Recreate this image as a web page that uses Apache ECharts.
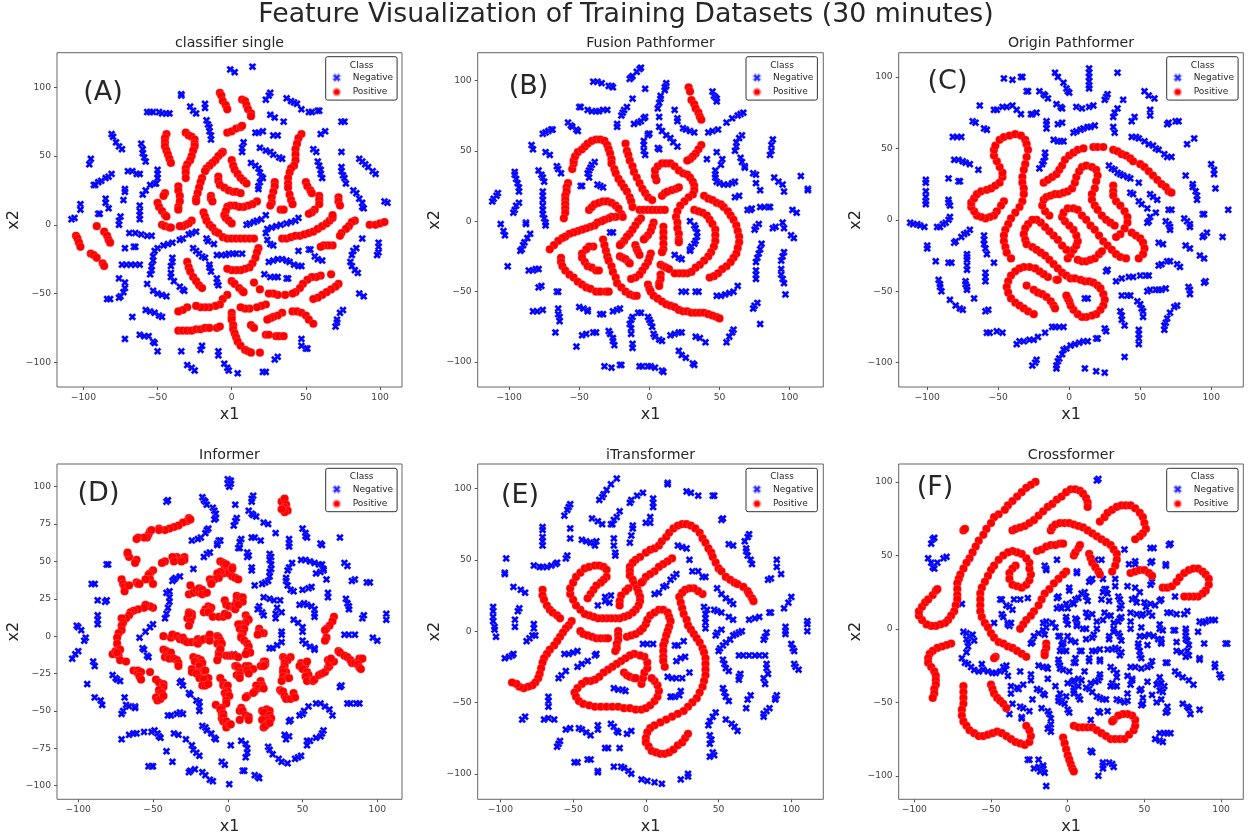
<!DOCTYPE html>
<html><head><meta charset="utf-8"><style>html,body{margin:0;padding:0;background:#fff}#c{width:1248px;height:834px}</style>
<script src="https://cdn.jsdelivr.net/npm/echarts@6/dist/echarts.min.js"></script></head><body><div id="c"></div><script>
const mainTitle="Feature Visualization of Training Datasets (30 minutes)";
const panelNames=["classifier single","Fusion Pathformer","Origin Pathformer","Informer","iTransformer","Crossformer"];
const panelTags=["(A)","(B)","(C)","(D)","(E)","(F)"];
const classNames=["Negative","Positive"];
const ticksA=[-100,-50,0,50,100], ticksAy=[-100,-50,0,50,100], ticksDy=[-100,-75,-50,-25,0,25,50,75,100];
const negA=[-1,113,2,111,14,115,-34,94,-34,95,26,96,25,94,23,91,37,92,40,90,42,89,44,88,47,84,52,82,54,82,58,83,59,83,-28,86,-26,83,-24,81,-18,88,-18,85,-57,82,-55,82,-53,82,-49,82,-47,81,-44,81,-42,81,-17,76,-16,73,-15,71,-15,68,-14,65,-14,62,26,80,29,78,35,75,74,75,76,75,16,67,18,67,21,68,60,66,63,68,28,65,31,65,-81,66,-80,64,-78,60,-76,57,-74,55,-61,59,-60,55,-60,52,-59,49,-58,46,8,60,7,56,7,53,19,56,23,54,26,53,28,51,32,49,34,48,55,55,57,53,74,53,-95,48,-96,44,58,46,59,43,60,40,60,37,61,34,86,48,88,46,90,44,92,42,95,39,97,37,13,45,16,43,18,41,19,38,20,35,21,34,-70,39,-67,39,-64,37,-62,37,-50,40,-50,37,-50,34,-52,30,-51,30,-55,29,-58,25,-60,22,-81,37,-83,35,-85,34,-88,32,-90,31,-93,29,-92,29,74,42,74,39,75,36,76,34,77,30,19,31,18,28,18,26,-72,26,-72,24,-73,18,82,25,84,23,86,19,88,16,88,13,89,12,-85,19,-85,16,-83,12,-102,15,-102,11,-108,4,-106,5,-62,14,-62,10,-62,7,-62,4,-90,8,-89,8,-75,6,-76,3,-76,0,103,17,105,16,10,0,12,1,15,2,17,3,20,4,23,7,23,-6,24,-3,27,-2,30,-1,33,0,37,1,40,2,43,3,45,5,24,-11,26,-14,28,-15,-69,-6,-65,-6,-61,-7,-57,-8,-54,-8,-24,-5,-27,-6,-29,-7,-33,-10,-35,-11,-40,-13,-43,-14,-46,-15,-50,-17,-52,-19,-53,-23,-53,-26,-54,-30,-54,-33,-55,-36,-17,-10,-16,-12,-12,-14,-72,-17,-66,-16,-65,-16,45,-19,52,-18,53,-18,56,-23,58,-25,61,-26,-10,-22,-7,-22,-4,-22,-2,-21,1,-21,3,-21,7,-21,-26,-17,-24,-19,-22,-21,-20,-23,-18,-24,-40,-24,-40,-27,-41,-30,25,-27,28,-26,31,-25,34,-25,37,-26,39,-27,42,-29,45,-30,47,-30,-74,-29,-71,-29,-68,-29,-65,-29,-62,-29,-15,-29,-15,-31,-14,-34,-41,-35,-41,-38,-39,-41,-10,-39,-10,-42,-9,-44,22,-36,26,-38,29,-38,31,-38,37,-39,38,-39,-76,-39,-72,-42,-72,-46,-73,-49,-75,-52,-76,-53,-57,-43,-53,-48,-50,-50,-47,-51,-44,-52,-35,-45,-33,-47,-32,-48,-84,-54,-82,-54,86,-50,89,-52,85,-35,83,-33,81,-30,80,-27,81,-22,82,-19,84,-17,88,-10,99,-13,99,-16,99,-20,98,-22,-58,-62,-55,-63,-52,-64,-49,-66,-47,-67,75,-62,73,-64,71,-69,71,-71,70,-74,-67,-67,-62,-80,-59,-81,-56,-81,-53,-85,-52,-86,-50,-92,47,-83,47,-88,50,-90,51,-90,-72,-83,-34,-92,-21,-91,-20,-88,-9,-92,-9,-95,31,-96,29,-98,-5,-101,-3,-104,-2,-106,4,-108,-30,-102,-27,-104,-25,-106,21,-107,23,-107];
const posA=[-8,96,-7,94,-6,90,-4,87,-3,84,7,91,9,90,10,87,11,84,13,81,13,79,-3,67,0,68,3,70,6,71,7,72,-44,66,-45,63,-45,60,-45,57,-44,54,-43,51,-42,48,-41,45,-31,67,-29,65,-27,64,-25,62,-25,59,-25,57,-26,54,-27,50,-28,47,-30,44,-31,41,-31,38,-31,34,-6,53,-7,52,-9,50,-11,47,-13,45,-15,43,-17,41,-18,39,47,66,45,63,44,59,43,55,43,51,43,47,42,43,40,41,39,38,38,34,38,30,38,27,39,22,40,18,41,15,0,47,1,43,2,40,4,37,6,34,8,32,10,30,-9,35,-9,32,-8,29,-5,27,-2,25,1,24,3,24,6,23,-20,34,-21,31,-22,27,-23,23,-24,19,-24,17,29,31,29,28,28,24,27,20,27,16,26,14,50,31,51,28,53,25,54,23,-36,28,-36,25,-35,21,-35,17,-36,13,-36,11,-45,23,-46,21,-14,21,-14,19,-13,17,59,21,59,18,59,15,72,20,72,17,73,14,-50,16,-49,13,-47,10,-45,7,-44,6,33,11,35,11,17,17,14,15,11,14,8,13,5,13,2,14,-1,14,-3,13,-4,10,-5,7,-4,5,-2,3,0,1,56,11,54,9,52,8,-27,3,-29,1,-31,0,-33,-1,-35,-1,-47,0,-45,-1,-42,-2,-41,-2,-19,9,-18,6,-17,3,-15,0,-13,-2,-11,-5,-9,-6,-6,-9,-3,-10,0,-10,3,-10,6,-10,9,-10,12,-10,15,-10,34,-10,37,-10,40,-9,43,-8,46,-8,49,-7,52,-6,55,-5,58,-3,61,-1,64,1,66,3,68,5,68,7,83,3,81,2,79,-1,77,-3,74,-6,73,-8,93,0,97,0,100,1,103,2,-91,-1,-105,-8,-104,-10,-103,-13,-102,-16,-86,-5,-84,-8,-83,-11,-82,-13,68,-15,65,-15,62,-15,60,-16,-95,-21,-93,-22,-91,-24,-87,-28,-86,-30,-30,-27,-29,-31,-28,-34,-26,-38,-24,-41,-22,-44,-20,-46,18,-17,17,-20,16,-24,14,-28,12,-31,9,-32,6,-33,3,-33,0,-33,-3,-32,0,-41,2,-43,5,-46,7,-48,8,-49,15,-42,19,-47,67,-36,60,-37,57,-38,54,-38,51,-40,48,-43,46,-46,43,-49,41,-50,36,-51,31,-51,28,-50,25,-50,72,-43,70,-45,67,-47,64,-49,61,-51,58,-53,55,-54,-3,-51,-6,-54,-8,-58,-11,-59,-15,-60,-18,-60,-21,-60,-24,-59,-30,-60,-33,-62,-36,-63,-36,-77,-33,-77,-30,-77,-27,-77,-24,-76,-21,-76,-18,-75,-15,-75,-10,-75,-8,-74,23,-58,20,-59,17,-60,12,-61,9,-61,6,-60,0,-64,0,-67,0,-69,1,-73,1,-76,2,-79,3,-82,4,-85,6,-88,9,-91,11,-92,13,-93,19,-93,13,-73,15,-75,34,-64,31,-66,28,-67,26,-68,24,-69,41,-63,44,-63,47,-64,50,-66,52,-69,55,-72,23,-80,25,-80,30,-81,32,-81,35,-81];
const negB=[-14,101,-13,102,-12,103,-9,106,-7,108,-6,109,-40,99,-37,99,-34,98,-29,96,-27,96,-26,95,-3,94,12,98,12,96,11,95,11,93,45,92,46,89,47,88,48,87,48,85,-50,81,-49,81,-44,79,-41,78,-38,78,-36,78,-33,79,-30,79,6,80,7,84,8,87,8,89,-12,87,-20,75,-19,77,-18,79,-16,81,18,79,20,73,20,71,7,74,-3,74,-4,73,-6,71,-8,70,-11,69,-23,69,-23,67,55,70,59,73,63,75,65,76,67,77,-58,70,-56,68,-55,67,-52,65,-51,64,-76,62,-74,63,-72,64,-70,65,-69,65,7,67,9,64,12,61,15,59,17,56,20,53,24,66,26,65,29,64,32,63,42,63,45,64,49,65,-1,62,-1,61,-4,57,-4,54,-4,50,-3,47,0,62,6,52,7,51,-84,54,-83,51,-74,49,-71,47,66,61,64,59,62,56,62,53,61,50,88,58,87,54,87,50,86,47,48,49,41,44,52,44,51,40,65,45,66,42,68,39,68,38,-39,42,-41,40,-42,38,-43,36,-44,34,-43,31,47,36,47,33,47,31,48,28,50,27,53,26,56,26,59,27,61,28,-66,39,-65,37,-63,34,-79,36,-77,33,-76,31,-75,28,-96,35,-96,33,-95,30,-94,27,-93,24,-93,21,-49,25,-48,25,-37,26,-35,25,-33,24,74,34,76,33,76,27,79,22,89,31,92,28,95,26,96,21,-76,21,-76,18,-76,15,-76,11,-76,8,-76,5,-75,2,-74,-1,-74,-3,-108,20,-109,18,-111,16,-112,14,-93,13,-95,11,-96,8,-97,6,61,17,64,18,108,32,113,23,113,22,70,8,72,8,73,9,79,10,82,10,85,10,86,10,102,8,105,6,-88,-1,-88,-2,-106,-2,-104,-7,-103,-10,29,0,32,-3,33,-5,34,-8,34,-11,33,-14,32,-16,30,-18,29,-20,29,-21,-28,-8,-26,-8,78,-2,76,-4,75,-6,88,-5,90,-4,95,-1,96,-5,101,-10,103,-12,-85,-9,-87,-12,-89,-15,-90,-17,-91,-20,-92,-21,80,-16,79,-20,78,-23,77,-26,76,-29,18,-24,21,-26,23,-27,96,-22,95,-25,94,-28,94,-34,94,-38,95,-41,96,-44,-101,-32,-86,-35,-83,-35,-81,-34,-79,-34,76,-35,76,-38,76,-41,-79,-47,-77,-46,-66,-50,-65,-50,23,-50,26,-50,33,-50,35,-50,48,-53,51,-53,54,-52,57,-51,60,-50,63,-46,97,-52,77,-58,75,-60,74,-62,-83,-64,-80,-64,-76,-63,-65,-62,-65,-66,-64,-68,-64,-71,-50,-61,-47,-62,-44,-63,-44,-64,-35,-66,-33,-66,-26,-64,-23,-63,-21,-62,-14,-73,-13,-70,-12,-68,-8,-65,-6,-65,-1,-68,0,-70,1,-72,2,-75,79,-73,-13,-76,-13,-80,-67,-79,-48,-81,-45,-80,-40,-79,-38,-79,-29,-78,-28,-80,-26,-83,-26,-85,-25,-88,3,-80,4,-82,7,-84,9,-85,15,-81,18,-80,21,-79,23,-79,33,-82,36,-83,40,-86,60,-77,59,-79,57,-82,55,-86,-12,-87,-12,-90,-52,-89,21,-92,23,-95,26,-97,31,-101,32,-102,-32,-103,-27,-104,-21,-102,-20,-102,-7,-103,-5,-103,-1,-103,1,-103,4,-104,9,-106,10,-107];
const posB=[28,95,29,92,30,86,32,83,33,80,35,77,36,74,37,72,37,54,35,51,33,48,31,46,29,44,27,43,-55,37,-54,41,-54,43,-53,46,-51,49,-48,51,-46,53,-44,55,-41,57,-38,58,-35,58,-32,57,-30,54,-29,51,-28,48,-27,44,-27,41,-25,37,-24,34,-22,30,-20,27,-18,24,-16,21,-14,17,-13,14,-12,10,-17,55,-16,50,-15,47,-14,43,-12,39,-11,35,-9,31,-7,27,-5,23,-3,20,-1,17,2,15,5,29,4,32,4,36,6,39,9,41,12,41,15,41,18,39,21,36,24,34,27,33,29,31,31,28,32,25,32,22,31,19,28,17,25,14,22,11,20,7,19,3,20,-1,20,-5,21,-9,21,-13,21,-15,9,18,11,20,13,21,16,22,19,23,21,24,-58,27,-59,24,-59,21,-60,18,-60,15,-60,12,-60,9,-60,6,-61,2,-43,8,-41,10,-39,12,-36,13,-33,14,-30,14,-27,13,-24,11,-22,9,-20,5,-19,3,-24,3,-27,3,-29,2,-32,1,-34,0,-37,-1,-39,-3,-42,-4,-45,-5,-48,-6,-51,-7,-54,-8,-57,-9,-60,-11,-62,-12,-65,-14,-68,-17,-71,-20,-7,8,-4,8,-1,8,2,8,5,8,8,8,11,8,39,18,42,16,45,15,48,13,51,12,53,10,56,7,58,4,60,1,62,-3,63,-7,64,-11,64,-15,63,-19,62,-23,60,-26,58,-29,55,-32,52,-34,49,-37,46,-39,43,-40,32,8,35,7,38,6,41,4,43,1,45,-2,47,-6,47,-10,47,-14,46,-18,44,-22,42,-25,39,-28,36,-31,33,-33,30,-36,27,-37,24,-37,21,-37,18,-37,-6,2,-8,0,-10,-3,-12,-6,-14,-9,-16,-11,-18,-14,-20,-16,-21,-17,3,-1,2,-4,1,-7,-1,-10,-3,-12,-4,-13,10,-4,10,-8,10,-12,10,-16,10,-20,9,-22,-10,-17,-9,-20,-8,-22,-7,-24,-21,-25,-19,-26,-17,-27,-15,-29,-14,-30,1,-23,0,-26,-1,-29,-3,-32,-5,-35,-7,-38,-10,-40,-13,-41,-40,-18,-43,-18,-45,-20,-48,-23,-48,-26,-46,-29,-44,-32,-41,-33,-38,-35,-36,-35,-33,-13,-32,-17,-31,-21,-30,-25,-29,-28,-27,-32,-26,-36,-24,-40,-23,-44,-20,-47,-17,-50,-14,-52,-11,-53,-9,-53,-63,-26,-63,-29,-62,-32,-60,-35,-57,-38,-54,-40,-51,-43,-48,-45,-45,-47,-42,-48,-38,-50,-35,-50,-31,-50,-29,-50,8,-31,10,-32,12,-33,14,-34,8,-38,8,-41,7,-44,7,-46,-1,-45,0,-48,1,-50,3,-53,6,-55,9,-57,12,-59,15,-60,18,-61,21,-63,24,-64,27,-64,30,-65,33,-65,36,-65,39,-65,42,-66,45,-67,48,-68,50,-69];
const negC=[-10,103,-8,100,-4,96,-2,92,-1,90,0,89,14,106,14,103,14,100,14,97,14,94,14,92,34,103,-46,99,-40,98,-34,100,-33,100,-30,90,-29,90,-21,90,-18,88,-17,87,-15,85,26,86,25,84,27,88,53,90,56,87,60,85,38,84,-63,80,-9,81,-6,79,-5,78,5,79,9,78,14,79,17,80,34,78,32,75,31,72,-53,77,-51,77,-47,79,-44,79,-40,80,-37,77,-34,74,-27,74,-26,74,-23,75,57,77,57,73,46,72,44,69,-68,69,-66,68,-16,69,-16,67,-16,64,-8,67,-5,68,69,67,70,68,75,69,77,69,31,65,32,61,-60,64,-58,63,3,61,5,62,8,63,10,64,13,65,15,65,18,66,-11,56,-8,55,-6,55,-4,55,-82,58,-79,58,-76,58,44,58,47,58,49,57,53,55,56,53,59,52,61,50,63,49,83,53,88,57,67,46,69,44,72,44,-17,47,-17,44,-18,41,-19,39,-21,36,-81,42,-78,42,-75,41,-73,40,-70,39,-64,35,28,38,30,36,32,35,34,33,36,32,38,31,41,30,43,29,100,39,102,35,102,32,82,31,-85,29,-78,27,-77,27,-101,28,-101,26,-101,20,-101,16,-101,13,-101,11,49,26,87,25,87,23,89,20,90,17,90,14,103,22,43,19,45,18,57,18,59,16,62,14,-85,14,-85,12,-84,10,49,13,51,11,55,8,70,7,72,7,112,7,61,5,57,2,56,-1,55,-2,94,4,95,4,-84,2,-85,0,-87,-2,-89,-3,81,1,83,-1,85,-3,85,-5,-112,-2,-110,-3,-107,-3,-105,-4,-102,-5,-93,-5,-91,-5,68,-1,70,-3,71,-5,71,-7,-70,-7,-72,-9,-74,-10,-76,-12,97,-9,95,-11,94,-12,108,-12,-81,-16,-80,-15,-60,-11,-60,-14,-60,-17,-59,-20,-58,-24,63,-16,66,-17,-100,-18,-100,-20,82,-18,85,-20,-72,-24,-72,-26,-72,-28,-72,-32,-72,-35,-94,-29,-85,-30,-83,-30,-53,-30,92,-25,95,-27,69,-29,71,-29,63,-32,65,-31,76,-31,78,-33,26,-36,27,-35,-59,-37,-59,-40,-59,-43,33,-43,37,-41,42,-40,45,-40,50,-39,54,-39,56,-39,-92,-42,-91,-45,-91,-47,-90,-50,-73,-43,-73,-45,-72,-47,-72,-49,96,-43,95,-44,55,-50,57,-49,61,-49,63,-49,65,-49,68,-48,84,-47,85,-49,85,-52,37,-53,41,-53,43,-53,11,-55,13,-55,-84,-56,-80,-60,-77,-62,-75,-63,-67,-55,48,-57,50,-59,51,-62,52,-64,52,-68,76,-60,74,-61,71,-65,69,-69,68,-72,67,-74,67,-77,-59,-64,-57,-63,36,-64,37,-67,37,-70,39,-74,-58,-79,-56,-79,-51,-78,-47,-79,25,-76,26,-78,-12,-75,-10,-75,-7,-75,-4,-75,-17,-79,-22,-82,-25,-84,-28,-84,-32,-85,-35,-85,-37,-87,49,-77,49,-80,49,-83,49,-87,19,-83,20,-83,13,-85,10,-85,7,-86,4,-87,1,-88,-2,-90,-4,-91,-5,-94,-7,-97,-8,-99,-9,-102,-9,-104,39,-96,-23,-98,-24,-100,-26,-102,11,-104,19,-106,25,-107];
const posC=[-46,13,-48,10,-51,6,-53,3,-56,2,-59,1,-62,2,-65,3,-67,6,-69,9,-69,12,-67,15,-65,18,-62,20,-58,21,-55,22,-52,24,-49,26,-47,30,-47,33,-49,37,-51,41,-53,45,-53,49,-52,52,-49,56,-46,58,-42,59,-38,60,-34,59,-31,56,-30,53,-29,49,-30,44,-31,39,-32,35,-33,30,-33,26,-32,22,-32,18,-33,13,-35,9,-38,5,-41,1,-43,-3,-45,-7,-46,-11,-46,-15,-45,-19,-44,-23,-41,-27,-18,26,-15,28,-12,30,-9,32,-7,35,-5,38,-3,42,0,45,3,47,6,49,10,50,17,51,20,51,24,51,31,49,34,48,37,46,40,45,43,43,45,41,50,39,53,37,56,34,59,31,62,28,65,25,68,23,70,20,72,19,-14,3,-17,6,-19,10,-18,14,-16,16,-13,17,-10,18,-7,18,-4,19,-1,20,2,22,4,26,5,30,7,34,9,37,12,38,16,37,19,35,20,31,19,27,18,22,16,18,16,14,18,10,20,7,23,3,26,0,29,-2,32,-4,31,24,31,20,31,17,33,13,36,10,39,6,41,2,41,-2,39,-6,36,-10,33,-12,44,-9,47,-11,50,-13,52,-16,53,-20,52,-24,49,-27,-1,-27,1,-24,3,-21,5,-18,6,-15,5,-11,3,-7,0,-4,-3,-1,-5,2,-4,5,-1,8,3,8,6,7,9,3,12,0,15,-4,18,-7,21,-11,24,-15,27,-18,30,-21,33,-24,36,-26,40,-27,-2,-21,-5,-18,-8,-14,-11,-11,-14,-8,-17,-5,-20,-2,-23,0,-26,0,-29,-3,-31,-6,-32,-10,-31,-14,-30,-17,6,-28,9,-29,12,-29,15,-28,18,-27,21,-24,23,-22,-26,-19,-23,-21,-20,-23,-17,-25,-14,-28,-11,-31,-8,-34,-5,-37,-2,-39,1,-41,4,-41,8,-42,11,-43,14,-43,17,-44,20,-46,22,-48,24,-52,25,-56,24,-60,22,-63,19,-66,16,-67,12,-68,9,-68,6,-66,3,-63,1,-60,0,-57,-1,-55,-2,-53,-15,-40,-18,-38,-21,-36,-24,-34,-28,-33,-32,-33,-35,-34,-38,-36,-41,-39,-43,-43,-44,-47,-43,-51,-41,-55,-38,-58,-35,-60,-32,-62,-29,-64,-25,-66,-9,-42,-8,-42,-30,-46,-25,-49,-22,-51,-19,-52,-16,-54,-13,-57,-11,-60,-10,-62];
const negD=[0,105,1,104,2,104,0,102,2,102,1,100,-41,90,-40,91,-17,93,-16,91,-15,90,-14,88,-10,86,-9,84,-8,82,-8,79,-9,78,5,88,17,94,16,92,16,90,14,84,16,82,17,81,19,80,24,76,27,75,6,79,5,77,4,74,-13,72,-14,71,-15,69,-18,66,-20,65,-24,64,32,69,-6,64,-5,64,-7,62,-7,61,9,65,8,63,7,59,8,59,16,66,18,66,22,64,50,72,52,69,52,67,53,66,41,65,41,62,41,60,62,62,63,61,75,66,-14,55,-12,56,-16,53,13,56,13,53,14,54,28,55,29,53,28,51,29,48,29,45,28,43,28,40,27,37,25,36,23,35,-81,48,-80,48,-23,45,16,46,16,44,18,34,-37,37,-35,39,-32,40,-36,38,43,49,41,46,40,44,39,39,39,37,40,34,42,31,44,30,49,51,52,51,55,50,58,49,61,48,63,48,64,44,62,43,64,45,59,42,66,38,50,31,54,32,56,33,67,29,67,26,78,49,80,47,85,38,83,37,93,36,95,36,-91,35,-89,35,-87,24,-82,23,-81,24,-41,29,-39,30,-39,26,-39,23,-40,19,-41,15,-42,12,24,26,21,20,20,18,23,16,24,14,28,25,31,24,35,24,33,19,32,15,36,16,32,12,48,21,51,22,53,21,56,20,58,18,58,15,58,13,79,25,80,22,81,20,81,18,90,12,91,14,106,15,106,11,-101,7,-100,6,-98,4,-87,14,-87,11,-87,8,-50,8,-52,6,-55,3,-59,-1,44,11,47,9,50,6,50,3,36,3,36,1,36,-4,33,-6,28,-8,30,-8,50,-3,52,-5,55,-7,58,-8,58,-9,78,1,81,1,85,1,97,-1,100,-3,-95,-1,-96,-3,-57,-8,-56,-9,-54,-13,-53,-14,-100,-10,-102,-12,-104,-15,-90,-17,-89,-20,-94,-32,-77,-26,-75,-28,-74,-29,-72,-30,-32,-31,-31,-30,-30,-33,-26,-38,-25,-39,-21,-43,-19,-44,-19,-47,-19,-50,76,-33,75,-34,-89,-41,-85,-43,-84,-46,-69,-41,-68,-46,-66,-47,-62,-47,-62,-48,-70,-50,-71,-52,-40,-53,-38,-53,-34,-52,-32,-51,-30,-52,80,-45,82,-45,86,-45,88,-45,70,-53,68,-49,65,-47,62,-45,59,-45,54,-47,51,-50,50,-52,48,-53,42,-56,41,-57,-17,-60,-15,-61,-14,-63,-11,-65,-9,-68,-8,-69,-36,-65,-33,-66,-28,-69,-71,-69,-66,-66,-63,-65,-61,-65,-56,-64,-51,-64,-49,-63,-47,-65,-46,-67,-45,-68,38,-66,41,-67,39,-69,64,-63,63,-65,62,-67,59,-68,55,-70,53,-70,53,-73,49,-80,47,-81,45,-82,9,-70,12,-72,13,-75,13,-78,12,-81,2,-73,-24,-73,-23,-76,-21,-78,-19,-80,27,-74,28,-76,30,-79,34,-82,36,-84,40,-85,-41,-77,-37,-84,-4,-84,-2,-86,-53,-87,-51,-87,-50,-87,-26,-91,-25,-90,-22,-89,-17,-91,-15,-93,-12,-96,-10,-97,10,-90,11,-90,18,-93,20,-94,21,-95,1,-99,4,-12,3,-13];
const posD=[36,90,38,92,39,88,38,86,40,84,38,83,36,85,-26,79,-27,77,-25,78,-30,76,-33,74,-36,73,-39,72,-42,71,-46,72,-46,71,-52,70,-53,68,-54,66,-56,66,-60,66,-61,65,-51,71,-67,55,-66,53,-67,56,-61,51,-62,49,-42,50,-44,49,-34,53,-36,52,-37,53,-36,50,-29,53,-29,51,-31,50,-50,44,-52,42,-53,41,-52,38,-55,38,-50,35,-61,36,-60,35,-59,35,-71,38,-70,35,-69,33,-69,30,-66,34,-50,19,-52,20,-55,21,-56,19,-60,18,-63,17,-65,16,-66,14,-68,12,-71,12,-70,9,-71,7,-71,4,-73,2,-74,-1,-74,-5,-77,-12,-75,-10,-72,-9,-73,-13,-74,-11,-72,-16,-68,-17,-63,-23,-60,-23,-60,-25,-58,-24,-59,-27,-58,-29,-52,-24,-48,-29,-46,-31,-43,-32,-43,-34,-46,-36,-46,-39,-44,-38,-48,-41,-47,-43,-45,-42,-43,-40,-5,50,-3,49,-2,46,-1,48,-2,43,-3,42,-5,43,-7,42,-6,39,-9,38,-12,38,-11,36,-11,35,1,42,3,40,5,39,7,38,3,46,3,45,-25,34,-26,28,-23,29,-21,31,-19,29,-19,32,-17,31,-17,28,-14,29,-2,24,-1,21,1,20,4,19,5,21,5,18,6,24,6,27,8,26,10,26,10,23,7,21,-13,20,-11,19,-15,18,-12,17,-16,16,-13,16,-10,13,-6,13,-3,13,-2,15,0,14,-26,16,-24,15,-24,13,-27,12,-25,10,-26,7,-26,15,12,14,13,12,14,11,12,9,9,8,7,8,8,5,11,5,10,2,9,0,9,-1,21,5,21,3,24,2,22,2,20,1,71,13,70,10,68,7,66,5,65,4,66,-1,65,-3,-43,0,-38,-1,-37,1,-34,0,-32,-2,-30,-1,-29,-3,-27,-4,-24,-4,-21,-4,-20,-2,-20,-5,-18,-3,-16,-2,-13,-1,-12,1,-12,-3,-7,0,-6,-1,-5,-3,-7,-5,-4,-5,-5,-8,-6,-11,-5,-9,-6,-13,-1,-13,1,-13,3,-13,5,-13,7,-14,-7,-16,11,-3,13,-5,14,-7,13,-10,15,-11,12,-12,-43,-9,-41,-10,-42,-14,-40,-13,-38,-11,-39,-15,-36,-15,-34,-16,-33,-18,-33,-20,-23,-14,-20,-15,-18,-16,-22,-17,-19,-18,-17,-18,-19,-20,-24,-22,-24,-24,-19,-24,-18,-26,-16,-23,-15,-23,-21,-25,-19,-28,-13,-28,-16,-29,-17,-33,-15,-33,-13,-32,5,-20,6,-20,7,-21,8,-24,6,-26,8,-26,8,-28,12,-20,14,-20,15,-22,17,-22,13,-23,14,-25,24,-17,25,-17,24,-19,22,-20,25,-19,24,-20,37,-14,38,-15,42,-14,40,-16,38,-18,38,-20,37,-22,39,-24,37,-24,37,-27,40,-28,36,-30,41,-28,49,-18,52,-19,53,-17,48,-20,50,-22,53,-24,54,-26,52,-27,53,-30,57,-30,58,-29,61,-26,63,-25,65,-24,67,-21,68,-20,67,-16,68,-18,71,-17,69,-15,74,-10,75,-11,78,-13,80,-14,82,-16,83,-18,85,-18,88,-16,88,-15,90,-15,87,-19,88,-21,89,-22,-5,-28,-3,-31,-3,-33,-1,-34,0,-33,0,-37,-2,-38,-1,-40,1,-40,-1,-43,-1,-45,-8,-46,-4,-48,-5,-49,-4,-52,-4,-55,-3,-52,-3,-54,-3,-57,-1,-57,-1,-61,1,-59,2,-59,22,-30,23,-33,21,-33,19,-33,20,-35,24,-35,18,-37,13,-40,12,-41,17,-38,35,-36,36,-37,37,-37,38,-40,39,-42,42,-42,44,-38,45,-41,9,-48,8,-50,10,-50,12,-53,14,-54,8,-56,14,-56,23,-50,26,-49,28,-50,24,-51,28,-53,29,-55,26,-56,23,-56,26,-59,24,-61,25,-60,28,-58];
const negE=[-20,107,-24,103,-27,99,-29,96,-30,94,-32,92,15,104,15,103,28,98,31,97,36,95,46,95,47,95,-2,97,-6,95,-10,92,-11,90,5,93,5,90,5,87,-52,89,-53,87,-54,85,-56,81,3,80,3,76,0,76,-18,84,-20,80,-22,78,-24,75,-23,75,-37,79,-33,77,-30,75,52,78,53,79,-9,74,-9,72,-71,73,-71,71,-71,66,-71,63,-71,60,-52,72,-52,65,-10,67,-11,62,-44,64,-41,63,-38,62,-36,62,-34,63,-35,60,-22,65,-22,60,-21,55,-21,53,57,61,60,60,71,68,70,66,68,63,69,58,69,56,70,53,72,50,73,47,22,60,25,59,28,58,-55,51,-54,53,-71,45,-73,45,-77,46,-68,45,-65,46,-62,47,-61,48,-96,51,-97,41,-97,40,30,50,90,50,90,45,32,42,36,42,39,38,41,38,93,40,21,40,19,38,17,36,14,32,12,31,6,26,9,27,49,30,52,26,84,36,86,37,-91,31,-86,29,-83,27,55,23,58,21,60,19,100,24,98,20,95,16,-24,25,-28,24,-28,21,-25,20,-33,18,-105,17,-105,14,-105,10,-105,7,-104,3,-104,1,-103,-4,-87,16,-88,14,-90,8,-90,3,40,17,42,15,47,15,49,14,52,13,86,13,85,13,41,12,41,9,41,6,41,2,57,10,60,8,71,8,75,9,78,10,-77,5,-77,2,111,7,111,5,111,0,96,3,96,0,96,-2,52,1,49,-1,48,-3,66,0,64,-1,62,-2,60,-3,58,-6,55,-8,53,-10,51,-12,50,-14,83,-1,82,-4,81,-6,-76,-3,-78,-3,-80,-5,-82,-7,-2,-9,1,-9,5,-9,20,-10,22,-10,26,-7,100,-9,101,-12,102,-14,-56,-16,-53,-16,-50,-15,-47,-14,-35,-17,-34,-16,-97,-19,-94,-18,-92,-17,-91,-16,64,-17,67,-17,71,-17,75,-17,78,-17,82,-17,21,-21,24,-19,27,-18,-40,-21,-44,-23,-47,-25,53,-20,54,-23,55,-26,57,-28,83,-23,83,-26,102,-23,103,-25,105,-27,-55,-28,-58,-31,-60,-33,30,-29,65,-30,64,-32,64,-34,15,-32,18,-33,21,-33,25,-33,81,-33,84,-30,82,-37,53,-40,54,-43,55,-46,57,-49,-22,-40,-19,-41,-16,-41,-14,-42,24,-42,23,-45,20,-46,18,-46,17,-46,72,-45,70,-48,69,-54,90,-45,89,-47,89,-48,-67,-46,-67,-49,-67,-53,48,-57,46,-60,44,-63,43,-66,85,-54,83,-56,81,-58,81,-60,-85,-62,-83,-60,-70,-62,-67,-61,-63,-62,55,-62,59,-65,61,-67,63,-70,-24,-65,-22,-67,-20,-70,-19,-71,-33,-66,-33,-69,-55,-69,-52,-68,-46,-68,-44,-69,-41,-71,-38,-73,-13,-72,-10,-70,-59,-77,-60,-79,-61,-81,44,-73,45,-76,44,-79,46,-85,47,-87,44,-88,-28,-82,-26,-82,-18,-82,-47,-92,-49,-92,-40,-90,-38,-90,-33,-98,-33,-99,-22,-95,-17,-95,-15,-96,-12,-98,-10,-100,-3,-104,1,-105,6,-106,11,-107,24,-104,29,-102,29,-100];
const posE=[0,55,3,57,6,58,9,60,11,63,14,66,16,69,19,72,22,74,25,75,28,75,31,74,34,72,37,69,39,65,41,62,43,58,45,55,46,52,48,48,50,44,52,42,55,38,58,36,61,34,63,33,67,31,70,28,71,26,73,23,74,21,-4,52,-7,50,-9,48,-11,45,-11,42,-11,39,-9,36,-8,33,-6,30,-5,27,-4,24,-4,21,-5,18,-7,15,-9,13,-12,11,-15,10,-18,9,-21,9,-24,9,-27,9,-30,9,-33,9,-36,10,-39,11,-42,12,-45,15,-48,18,-50,22,-52,26,-52,30,-50,34,-48,38,-45,41,-42,44,-39,45,-35,46,-32,46,-29,45,-27,43,-27,38,-29,36,-31,34,-34,32,-36,29,-38,26,-40,23,-12,30,-14,28,-17,25,-18,21,-18,18,-71,29,-71,25,-70,22,-68,18,-66,15,-64,13,-61,11,-59,9,18,51,15,49,12,47,9,45,6,42,3,40,0,38,-2,35,-3,34,39,26,36,28,33,30,30,30,27,29,25,27,23,24,24,20,25,16,26,12,28,8,29,4,31,1,33,-2,35,-5,37,-8,39,-12,40,-15,41,-19,41,-23,41,-27,41,-31,40,-35,39,-39,37,-43,35,-47,32,-50,29,-53,26,-56,22,-58,18,-60,14,-62,10,-64,6,-66,3,-68,1,-71,0,-75,0,-78,2,-81,4,-84,7,-85,10,-86,13,-86,16,-85,19,-83,22,-80,25,-78,27,-75,29,-72,-51,7,-53,4,-55,2,-57,-1,-59,-4,-61,-7,-63,-10,-66,-13,-68,-16,-70,-19,-71,-22,-72,-26,-73,-30,-74,-33,-76,-36,-78,-38,-81,-39,-84,-40,-87,-39,-89,-37,-92,-36,-45,0,-43,-2,-40,-3,-37,-4,-34,-5,-31,-5,-28,-5,-26,-5,-19,0,-19,-3,-19,-6,-20,-9,-20,-12,-21,-14,-13,-4,-10,-3,-7,-2,-4,0,-2,2,0,5,1,8,3,11,6,13,9,15,12,15,15,13,16,10,17,7,16,3,15,0,14,-3,13,-7,12,-10,12,-14,12,-18,12,-21,13,-25,-3,-37,-2,-33,-1,-29,1,-26,1,-22,-1,-18,-4,-17,-8,-16,-11,-17,-14,-19,-17,-21,-20,-23,-23,-25,-26,-27,-29,-29,-32,-32,-35,-34,-38,-35,-41,-35,-44,-37,-47,-40,-49,-43,-48,-46,-46,-49,-43,-51,-39,-52,-35,-53,-31,-53,-27,-53,-23,-53,-19,-53,-15,-54,-11,-54,-7,-55,-3,-55,0,-54,3,-52,6,-49,8,-46,9,-42,8,-38,6,-35,4,-33,-15,-29,-13,-31,-11,-32,-8,-33,-7,-33];
const negF=[20,102,19,101,-88,61,-87,62,-89,58,-91,48,-89,45,-88,42,-87,41,-85,45,-81,48,-79,49,-69,17,-44,20,-43,20,-40,16,-38,15,-36,13,-35,20,-31,20,-26,21,-43,10,-42,8,-39,4,-38,2,-39,3,-37,4,-48,4,-68,-2,-66,-3,-64,-5,-62,-4,-66,-7,-65,-9,-65,-12,-61,-8,-66,-16,-69,-20,-67,-23,-65,-24,-63,-26,-61,-28,-58,-29,-56,-24,-55,-28,-52,-29,-49,-30,-47,-30,-44,-29,-42,-26,-40,-25,-41,-28,-39,-32,-31,-29,-37,-39,-37,-44,-32,-41,-33,-40,-29,-38,-24,-31,-24,-35,-36,-51,-31,-53,-29,-54,-25,-56,-38,-58,-30,-60,-30,-61,-17,-54,-13,-56,-12,-58,-11,-61,-11,-65,-12,-67,-13,-68,-11,-70,-26,-89,-25,-89,-19,-89,-22,-95,-19,-94,-18,-97,-16,-95,-15,-98,-16,-93,-14,-107,15,-83,16,-84,23,-91,23,-93,23,-95,27,-91,29,-92,30,-94,20,-100,15,-62,57,-75,60,-76,62,-77,60,-71,63,-71,65,-71,67,-71,65,-53,65,-56,64,-57,18,47,22,47,-15,43,-14,41,-14,40,-7,47,6,39,6,38,37,54,56,55,54,55,66,57,67,58,40,44,44,46,44,44,54,45,55,46,64,44,64,43,15,33,16,34,14,32,23,34,31,34,55,32,39,29,44,28,31,29,54,30,1,28,1,26,24,27,25,27,23,25,11,25,9,24,5,20,7,21,-7,21,-6,22,26,24,33,22,34,20,47,25,70,22,12,22,13,19,3,18,4,17,27,19,22,20,42,20,44,21,60,19,61,20,-1,17,-5,15,-7,14,-4,14,35,16,45,18,50,18,51,15,54,17,57,16,0,14,34,14,12,11,16,10,13,8,24,11,26,9,28,9,41,11,45,10,48,9,49,10,53,11,55,9,65,11,67,11,71,10,76,10,78,12,-1,8,-1,6,5,7,6,6,-16,4,-14,5,-10,4,19,5,23,6,30,4,33,5,35,8,34,7,41,5,60,3,60,0,86,5,88,4,92,6,94,6,96,6,90,5,-8,1,-14,1,-16,-1,0,3,6,3,6,2,10,0,12,0,19,0,30,0,30,-2,41,0,48,1,69,-1,70,-1,77,0,77,-2,85,-2,62,-1,-19,-3,-22,-5,-15,-4,-5,-5,-6,-5,0,-5,17,-4,12,-7,16,-6,27,-5,27,-7,33,-3,34,-5,35,-8,47,-5,50,-5,53,-4,56,-5,59,-7,61,-7,77,-5,77,-7,78,-8,-23,-9,-24,-10,2,-8,5,-9,-3,-9,61,-9,61,-10,71,-9,-3,-10,-4,-11,46,-10,46,-12,52,-11,89,-10,103,-10,104,-10,79,-11,-5,-15,-3,-15,-1,-15,8,-15,9,-15,16,-15,18,-15,21,-14,26,-14,29,-14,31,-13,33,-14,35,-16,34,-18,71,-15,74,-16,78,-15,79,-18,47,-15,47,-18,48,-20,-6,-21,-6,-23,5,-20,4,-23,5,-23,14,-20,14,-22,21,-22,21,-21,65,-23,64,-23,55,-22,54,-25,77,-19,86,-20,86,-21,96,-24,96,-26,-19,-25,-16,-26,-14,-26,-13,-27,-5,-25,-5,-27,-3,-28,28,-26,30,-28,41,-26,44,-26,48,-27,52,-26,1,-29,11,-29,32,-30,32,-33,21,-31,21,-33,39,-32,42,-34,70,-29,72,-31,75,-33,99,-31,100,-33,-13,-34,3,-36,4,-35,7,-34,9,-35,20,-35,18,-36,15,-37,29,-37,30,-39,32,-39,41,-38,42,-35,60,-33,59,-37,58,-38,61,-40,63,-39,79,-35,82,-38,52,-36,61,-37,-8,-39,0,-37,4,-40,4,-42,7,-39,12,-40,14,-41,16,-43,28,-39,-20,-41,-18,-42,-16,-44,-15,-45,48,-41,47,-42,62,-43,60,-42,39,-44,-5,-44,-1,-46,4,-44,7,-46,8,-48,19,-46,21,-47,23,-48,25,-48,32,-48,34,-49,37,-50,39,-49,55,-45,-6,-47,-5,-49,49,-47,-23,-48,-6,-49,-4,-50,-2,-51,0,-55,1,-57,20,-56,21,-57,26,-56,48,-52,49,-51,58,-50,61,-48,75,-51,78,-53,79,-54,80,-58,86,-55];
const posF=[-21,100,-24,98,-27,96,-30,93,-33,90,-36,87,-39,84,-41,81,-45,78,-48,76,-50,72,-53,68,-55,64,-58,60,-60,56,-62,52,-64,48,-66,45,-68,41,-70,37,-71,34,-72,31,-72,27,-72,23,-72,20,-73,16,-74,12,-76,9,-78,6,-80,4,-83,3,-86,2,-89,2,-92,3,-95,6,-97,9,-97,12,-95,15,-93,18,-91,20,-88,23,-86,26,-85,27,-68,67,-67,68,-36,67,-34,68,-31,69,-28,70,-25,72,-22,74,-19,77,-16,80,-13,83,-10,85,-7,88,-4,90,-1,93,2,95,5,95,8,94,10,92,12,89,13,86,13,83,21,73,24,76,26,79,29,81,32,83,35,84,38,84,41,84,44,82,47,79,49,76,50,72,51,68,49,65,47,63,44,61,-11,67,-10,69,-8,71,-5,72,-2,72,1,72,4,71,7,70,10,69,13,67,16,65,19,63,22,61,25,59,28,57,30,54,32,51,32,47,31,43,29,39,-20,53,-17,54,-14,56,-11,57,-8,57,-5,58,-3,58,4,50,5,52,7,55,8,57,14,51,15,48,16,45,18,42,20,39,21,37,-1,39,-3,37,-6,34,-9,31,-12,27,-15,24,-17,20,-19,16,-22,12,-24,9,-27,6,-29,3,-31,0,-34,43,-36,41,-38,38,-38,34,-36,30,-33,29,-30,28,-27,30,-25,33,-24,37,-25,41,-25,45,-27,48,-30,51,-33,52,-36,53,-39,52,-42,50,-45,47,-48,43,-50,40,-52,36,-54,32,-56,28,-57,24,-57,20,-57,16,-57,12,-56,8,-54,4,-52,1,-50,-3,-48,-6,-45,-9,-42,-10,-39,-12,-36,-13,-33,-15,-30,-17,-27,-19,-47,-19,-48,-20,-14,-10,-14,-13,-15,-16,-15,-18,-76,-10,-79,-11,-82,-12,-85,-13,-88,-15,-90,-17,-91,-20,-91,-23,-89,-26,-87,-29,-86,-32,-86,-35,-86,-38,-87,-41,-87,-44,-88,-47,-68,-39,-68,-43,-68,-47,-68,-51,-69,-55,-69,-59,-68,-63,-66,-66,-64,-69,-61,-71,-58,-73,-55,-73,-52,-72,-49,-71,-46,-70,-43,-71,-40,-73,-37,-75,-34,-77,-31,-78,-28,-79,-25,-77,-24,-73,-25,-69,-27,-66,-50,-38,-49,-41,-48,-44,-46,-47,-44,-49,-42,-51,-40,-54,-3,-74,-2,-78,-1,-82,0,-86,1,-89,2,-92,3,-95,4,-97,4,-66,7,-67,10,-67,13,-67,16,-67,19,-69,22,-71,25,-73,28,-75,31,-75,34,-75,37,-75,40,-72,43,-69,44,-66,44,-62,42,-59,39,-58,36,-58,33,-59,30,-62,29,-63,41,38,44,39,47,40,50,40,53,38,55,36,62,28,65,28,68,29,71,32,73,35,76,38,79,40,82,41,85,41,88,39,90,37,92,34,92,30,90,26,88,24,85,22,82,22,79,22,76,22];
const xRanges=[[-117.8,114.8],[-122.4,124],[-120.1,122.6],[-114.2,116.5],[-115.6,122],[-110.2,114.5]];
const yRanges=[[-118,125.2],[-117.7,119.6],[-117,117],[-109.1,115.2],[-117.9,117.2],[-116,112.2]];
const yTicks=[ticksAy,ticksAy,ticksAy,ticksDy,ticksAy,ticksAy];
const negSets=[negA,negB,negC,negD,negE,negF], posSets=[posA,posB,posC,posD,posE,posF];
const gridX=[[57,402],[477.7,823.3],[898.7,1243.3]], gridY=[[52.7,387],[464,799.3]];
const tagPos=[[103,93],[528.5,86.5],[947.5,82],[98.5,493.5],[520,495.5],[935,487.8]];
const pairs=f=>{const o=[];for(let i=0;i<f.length;i+=2)o.push([f[i],f[i+1]]);return o;};
const X='path://M2.5 0L5 2.5L7.5 0L10 2.5L7.5 5L10 7.5L7.5 10L5 7.5L2.5 10L0 7.5L2.5 5L0 2.5Z';
const font='"DejaVu Sans"', ink='#262626';
const fmt=v=>String(v).replace('-','\u2212');
const grid=[],xAxis=[],yAxis=[],series=[],legend=[],graphic=[];
graphic.push({type:'text',x:626,y:15,z:20,style:{text:mainTitle,font:'26.8px '+font,fill:ink,align:'center',verticalAlign:'middle'}});
panelNames.forEach((name,i)=>{
 const c=i%3,r=i<3?0:1,gx=gridX[c],gy=gridY[r];
 grid.push({left:gx[0],top:gy[0],width:gx[1]-gx[0],height:gy[1]-gy[0],show:true,borderColor:'#666',borderWidth:1,backgroundColor:'#fff',outerBoundsMode:'none'});
 const axisBase={gridIndex:i,type:'value',splitLine:{show:false},axisLine:{show:false,onZero:false},nameLocation:'middle',nameTextStyle:{fontFamily:font,fontSize:16,color:ink}};
 xAxis.push({...axisBase,min:xRanges[i][0],max:xRanges[i][1],name:'x1',nameGap:20,
  axisTick:{show:true,length:3,lineStyle:{color:'#555'},customValues:ticksA},
  axisLabel:{fontFamily:font,fontSize:9.2,color:'#444',margin:6,customValues:ticksA,formatter:fmt}});
 yAxis.push({...axisBase,min:yRanges[i][0],max:yRanges[i][1],name:'x2',nameGap:26,
  axisTick:{show:true,length:3,lineStyle:{color:'#555'},customValues:yTicks[i]},
  axisLabel:{fontFamily:font,fontSize:9.2,color:'#444',margin:6,customValues:yTicks[i],formatter:fmt}});
 series.push({name:classNames[0],type:'scatter',xAxisIndex:i,yAxisIndex:i,data:pairs(negSets[i]),symbol:X,symbolSize:7.5,itemStyle:{color:'#0000ff',opacity:1,borderColor:'rgba(130,130,255,.5)',borderWidth:.5},z:2,silent:true});
 series.push({name:classNames[1],type:'scatter',xAxisIndex:i,yAxisIndex:i,data:pairs(posSets[i]),symbol:'circle',symbolSize:8.2,itemStyle:{color:'#ff0000',opacity:1,borderColor:'rgba(255,150,150,.7)',borderWidth:.4},z:3,silent:true});
 const lx=[325.7,746,1166.7][c], ly=[56.7,468.3][r];
 legend.push({left:lx,top:ly,orient:'vertical',selectedMode:false,padding:[16.5,4,3.5,6.5],itemWidth:22,itemHeight:7,itemGap:5.4,
  borderColor:'#333',borderWidth:1,borderRadius:2,backgroundColor:'#fff',
  textStyle:{fontFamily:font,fontSize:9,color:ink},
  data:[{name:classNames[0],icon:X},{name:classNames[1],icon:'circle'}]});
 graphic.push({type:'text',x:(gx[0]+gx[1])/2,y:gy[0]-9,z:20,style:{text:name,font:'14.2px '+font,fill:ink,align:'center',verticalAlign:'middle'}});
 graphic.push({type:'text',x:tagPos[i][0],y:tagPos[i][1],z:20,style:{text:panelTags[i],font:'27px '+font,fill:ink,align:'center',verticalAlign:'middle'}});
 graphic.push({type:'text',x:lx+36,y:ly+8.5,z:20,style:{text:'Class',font:'9px '+font,fill:ink,align:'center',verticalAlign:'middle'}});
});
const chart=echarts.init(document.getElementById('c'),null,{renderer:'canvas'});
chart.setOption({animation:false,backgroundColor:'#fff',grid,xAxis,yAxis,series,legend,graphic,tooltip:{show:false}});
</script></body></html>
